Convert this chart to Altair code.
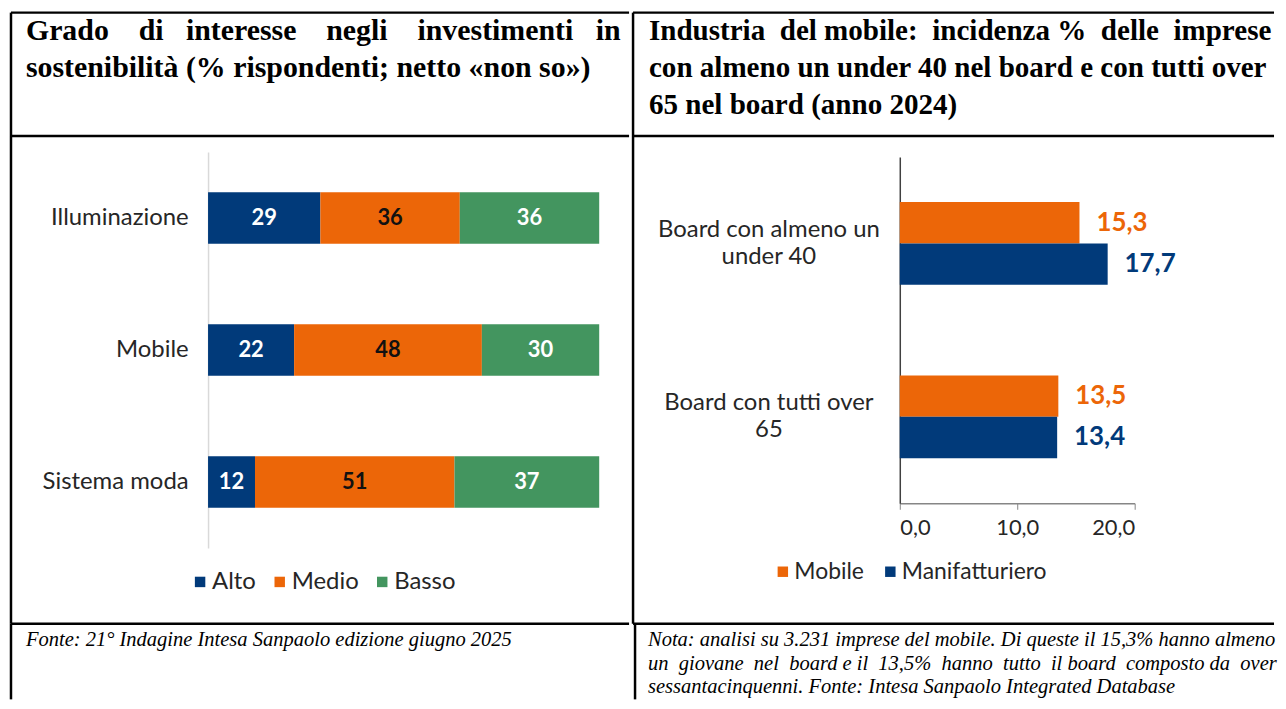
import altair as alt
import pandas as pd

# ---------------- data ----------------
settori = ["Illuminazione", "Mobile", "Sistema moda"]
livelli = ["Alto", "Medio", "Basso"]
alto = [29, 22, 12]
medio = [36, 48, 51]
basso = [36, 30, 37]
colori_livelli = ["#013A7A", "#EC6608", "#43955F"]

categorie_board = ["Board con almeno un\nunder 40", "Board con tutti over\n65"]
serie_board = ["Mobile", "Manifatturiero"]
valori_mobile = [15.3, 13.5]
valori_manif = [17.7, 13.4]
colori_board = ["#EC6608", "#013A7A"]
tick_x = [0, 10, 20]

NB = "\u00a0"
titolo_sx = [
    "Grado " + NB * 3 + "di " + NB * 2 + "interesse " + NB * 3 + "negli " + NB * 3 + "investimenti " + NB * 2 + "in",
    "sostenibilità (% rispondenti; netto «non so»)",
]
titolo_dx = [
    "Industria " + NB + "del mobile: " + NB + "incidenza % " + NB + "delle " + NB + "imprese",
    "con almeno un under 40 nel board e con tutti over",
    "65 nel board (anno 2024)",
]
nota_sx = ["Fonte: 21° Indagine Intesa Sanpaolo edizione giugno 2025"]
nota_dx = [
    "Nota: analisi su 3.231 imprese del mobile. Di queste il 15,3% hanno almeno",
    "un " + NB + "giovane " + NB + "nel " + NB + "board e il " + NB + "13,5% " + NB + "hanno " + NB
    + "tutto " + NB + "il board " + NB + "composto da " + NB + "over",
    "sessantacinquenni. Fonte: Intesa Sanpaolo Integrated Database",
]

SANS = "Lato"
SERIF = "Liberation Serif"
TXT = "#262626"

W_L, W_R = 621, 644
H_HEAD, H_BODY, H_FOOT = 124, 490, 76

rows_l = []
for i, s in enumerate(settori):
    for j, (lv, vals) in enumerate(zip(livelli, [alto, medio, basso])):
        rows_l.append({"settore": s, "livello": lv, "ord": j, "valore": vals[i]})
df_l = pd.DataFrame(rows_l)

rows_r = []
for i, c in enumerate(categorie_board):
    for j, (sr, vals) in enumerate(zip(serie_board, [valori_mobile, valori_manif])):
        rows_r.append({"categoria": c, "serie": sr, "valore": vals[i]})
df_r = pd.DataFrame(rows_r)

one = alt.Data(values=[{}])


def borders(w, h, left_x=0):
    top = alt.Chart(one).mark_rule(color="black", strokeWidth=2.5).encode(
        x=alt.value(0), x2=alt.value(w), y=alt.value(0))
    left = alt.Chart(one).mark_rule(color="black", strokeWidth=2.5).encode(
        x=alt.value(left_x), y=alt.value(0), y2=alt.value(h))
    return [top, left]


def text_cell(lines, w, h, x, y0, size, lh, weight, style, left_x=0):
    layers = []
    for k, line in enumerate(lines):
        layers.append(alt.Chart(one).mark_text(
            align="left", baseline="alphabetic", font=SERIF, fontSize=size,
            fontWeight=weight, fontStyle=style, color="black",
        ).encode(x=alt.value(x), y=alt.value(y0 + k * lh), text=alt.value(line)))
    return alt.layer(*layers, *borders(w, h, left_x)).properties(width=w, height=h)


# ---------------- left chart ----------------
base_l = alt.Chart(df_l).transform_stack(
    stack="valore", groupby=["settore"], as_=["v0", "v1"], offset="normalize",
    sort=[alt.SortField("ord", order="ascending")],
).transform_calculate(mid="(datum.v0 + datum.v1) / 2")

y_l = alt.Y("settore:N", sort=settori,
            scale=alt.Scale(range=[16, 414], paddingInner=0.61, paddingOuter=0.305),
            axis=alt.Axis(title=None, offset=-198, ticks=False, domainColor="#d9d9d9",
                          domainWidth=1.5, labelFont=SANS, labelFontSize=24,
                          labelColor=TXT, labelPadding=20, labelLimit=400))
x_scale_l = alt.Scale(domain=[0, 1], range=[198, 591])
color_l = alt.Color("livello:N", scale=alt.Scale(domain=livelli, range=colori_livelli),
                    legend=alt.Legend(title=None, orient="none", legendX=178,
                                      legendY=H_HEAD + 436, direction="horizontal",
                                      symbolType="square", symbolSize=110,
                                      symbolStrokeWidth=0, labelFont=SANS, labelFontSize=24,
                                      labelColor=TXT, columnPadding=11, labelOffset=0,
                                      padding=0))

bars_l = base_l.mark_bar().encode(
    y=y_l, x=alt.X("v0:Q", scale=x_scale_l, axis=None), x2="v1:Q", color=color_l)
lab_l = base_l.mark_text(font=SANS, fontWeight="bold", fontSize=22, baseline="middle").encode(
    y=y_l, x=alt.X("mid:Q", scale=x_scale_l, axis=None), text="valore:Q",
    color=alt.condition(alt.datum.livello == "Medio", alt.value("#111111"), alt.value("white")))

body_l = alt.layer(bars_l, lab_l, *borders(W_L, H_BODY)).properties(width=W_L, height=H_BODY)

# ---------------- right chart ----------------
label_fmt = "replace(format(datum.value, '.1f'), '.', ',')"
y_r = alt.Y("categoria:N", sort=categorie_board,
            scale=alt.Scale(range=[21, 369], paddingInner=0.523, paddingOuter=0.26),
            axis=alt.Axis(title=None, offset=-268, ticks=False, tickSize=0,
                          domainColor="#404040", domainWidth=1.5, labelAlign="center",
                          labelBaseline="middle", labelPadding=132, labelOffset=-13.5,
                          labelExpr="split(datum.label, '\\n')", labelFont=SANS,
                          labelFontSize=24, labelLineHeight=27, labelColor=TXT,
                          labelLimit=400))
yo_r = alt.YOffset("serie:N", sort=serie_board, scale=alt.Scale(paddingInner=0, paddingOuter=0))
x_r = alt.X("valore:Q", scale=alt.Scale(domain=[0, 20], range=[268, 504]),
            axis=alt.Axis(values=tick_x, title=None, offset=-121, grid=False, tickSize=6,
                          tickColor="#868686", domainColor="#868686", domainWidth=1.5,
                          labelExpr=label_fmt, labelFont=SANS, labelFontSize=22,
                          labelPadding=8, labelColor=TXT))
color_r = alt.Color("serie:N", scale=alt.Scale(domain=serie_board, range=colori_board),
                    legend=alt.Legend(title=None, orient="none", legendX=139,
                                      legendY=H_HEAD + 426, direction="horizontal",
                                      symbolType="square", symbolSize=110,
                                      symbolStrokeWidth=0, labelFont=SANS, labelFontSize=23,
                                      labelColor=TXT, columnPadding=14, labelOffset=0,
                                      padding=0))

bars_r = alt.Chart(df_r).mark_bar().encode(y=y_r, yOffset=yo_r, x=x_r, color=color_r)
lab_r = alt.Chart(df_r).transform_calculate(
    etichetta="replace(format(datum.valore, '.1f'), '.', ',')"
).mark_text(align="left", dx=17, font=SANS, fontWeight="bold", fontSize=26,
            baseline="middle").encode(
    y=y_r, yOffset=yo_r, x=x_r, text="etichetta:N", color=color_r)

body_r = alt.layer(bars_r, lab_r, *borders(W_R, H_BODY)).properties(width=W_R, height=H_BODY)

# ---------------- assemble ----------------
head_l = text_cell(titolo_sx, W_L, H_HEAD, 15, 28, 30, 37, "bold", "normal")
head_r = text_cell(titolo_dx, W_R, H_HEAD, 16, 28, 29.2, 37, "bold", "normal")
foot_l = text_cell(nota_sx, W_L, H_FOOT, 15, 22, 20.6, 24, "normal", "italic")
foot_r = text_cell(nota_dx, W_R, H_FOOT, 15, 22, 20.6, 24, "normal", "italic", left_x=2)

col_l = alt.vconcat(head_l, body_l, foot_l, spacing=0, bounds="flush")
col_r = alt.vconcat(head_r, body_r, foot_r, spacing=0, bounds="flush")

chart = alt.hconcat(col_l, col_r, spacing=0, bounds="full").resolve_scale(
    color="independent", x="independent", y="independent"
).resolve_legend(color="independent").properties(
    padding={"left": 1, "top": 1, "right": 0, "bottom": 0}
).configure_view(stroke="transparent")

chart.save("out.html", embed_options={"renderer": "svg", "actions": False})
